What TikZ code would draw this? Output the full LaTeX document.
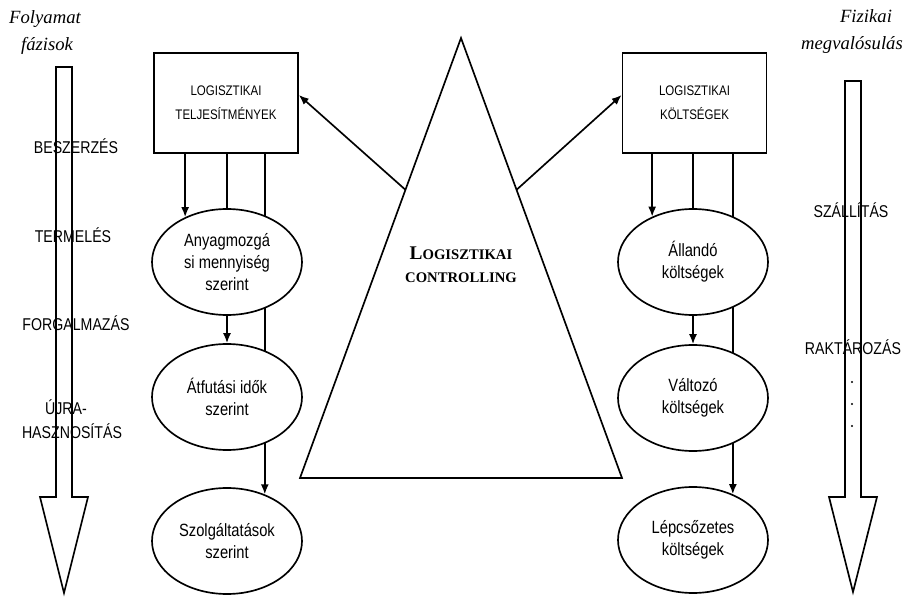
\documentclass[tikz,border=0pt]{standalone}
\usepackage{fontspec}
\setmainfont{Liberation Sans}[FakeStretch=0.83]
\newfontfamily\tms{Liberation Serif}
\usetikzlibrary{shapes.geometric,arrows.meta,backgrounds,calc}
\begin{document}
\begin{tikzpicture}[x=0.75pt,y=-0.75pt,
  ln/.style={line width=1.25pt},
  arr/.style={line width=1.25pt,-{Latex[length=7.5pt,width=6pt]}},
  box/.style={draw,line width=1.25pt,minimum width=108pt,minimum height=75pt,inner sep=0pt,align=center,font=\fontsize{10.4}{18}\selectfont},
  ell/.style={draw,ellipse,fill=white,line width=1.25pt,minimum width=112.5pt,minimum height=79.5pt,inner sep=0pt,align=center,font=\fontsize{13.3}{16.5}\selectfont},
  phase/.style={anchor=base,align=center,font=\fontsize{12.8}{17.6}\selectfont},
  ttl/.style={anchor=base,font=\tms\itshape\fontsize{14}{20}\selectfont},
  ctl/.style={anchor=base,align=center,font=\tms\bfseries\fontsize{11}{17.25}\selectfont}
]
\useasboundingbox (0,0) rectangle (903,599);

% titles
\node[ttl] (t1) at (45,24) {Folyamat};
\node[ttl] (t2) at (47,51) {fázisok};
\node[ttl] (t3) at (866,23) {Fizikai};
\node[ttl] (t4) at (852,50) {megvalósulás};

% big arrows
\draw[ln,line join=miter] (56,67) -- (72,67) -- (72,497) -- (88,497) -- (64,593) -- (40,497) -- (56,497) -- cycle;
\draw[ln,line join=miter] (845,81) -- (861,81) -- (861,497) -- (877,497) -- (853,592) -- (829,497) -- (845,497) -- cycle;

% phase labels
\node[phase] (p1) at (76,154) {BESZERZÉS};
\node[phase] (p2) at (73,243) {TERMELÉS};
\node[phase] (p3) at (76,330) {FORGALMAZÁS};
\node[phase] (p4) at (66,414) {ÚJRA-};
\node[phase] (p5) at (72,438) {HASZNOSÍTÁS};
\node[phase] (q1) at (851,218) {SZÁLLÍTÁS};
\node[phase] (q2) at (853,354) {RAKTÁROZÁS};
\fill (852,382) circle (1.1);
\fill (852,404) circle (1.1);
\fill (852,426) circle (1.1);

% boxes
\node[box] (lb) at (226,103) {LOGISZTIKAI\\TELJESÍTMÉNYEK};
\node[box] (rb) at (694.5,103) {LOGISZTIKAI\\KÖLTSÉGEK};

% ellipses
\node[ell] (le1) at (227,262) {Anyagmozgá\\si mennyiség\\szerint};
\node[ell] (le2) at (227,397) {Átfutási idők\\szerint};
\node[ell] (le3) at (227,541) {Szolgáltatások\\szerint};
\node[ell] (re1) at (693,262) {Állandó\\költségek};
\node[ell] (re2) at (693,398) {Változó\\költségek};
\node[ell] (re3) at (693,540) {Lépcsőzetes\\költségek};

% triangle
\coordinate (apex) at (461,38);
\coordinate (bl) at (300,478);
\coordinate (br) at (622,478);
\draw[ln,line join=miter] (apex) -- (bl) -- (br) -- cycle;
\node[ctl] (ct) at (461,282) {{\fontsize{14.5}{17.25}\selectfont L}OGISZTIKAI\\CONTROLLING};
\coordinate (tls) at ($(apex)!0.345!(bl)$);
\coordinate (trs) at ($(apex)!0.345!(br)$);
\draw[arr] (tls) -- ([yshift=6pt]lb.east);
\draw[arr] (trs) -- ([yshift=6pt]rb.west);

% connectors behind ellipses
\begin{scope}[on background layer]
\draw[arr] (lb.south -| le1.133) -- (le1.133);
\draw[ln] (lb.south -| le1.north) -- (le1.north);
\draw[arr] (lb.south -| le3.51) -- (le3.51);
\draw[arr] (le1.south) -- (le2.north);
\draw[arr] (rb.south -| re1.132) -- (re1.132);
\draw[ln] (rb.south -| re1.north) -- (re1.north);
\draw[arr] (rb.south -| re3.49) -- (re3.49);
\draw[arr] (re1.south) -- (re2.north);
\end{scope}
\end{tikzpicture}
\end{document}
